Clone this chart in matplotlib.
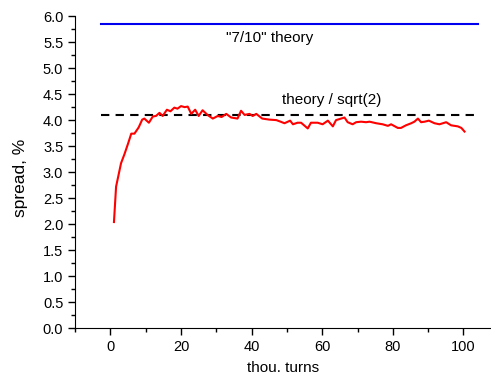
import matplotlib
matplotlib.use("Agg")
import matplotlib.pyplot as plt
from matplotlib.ticker import MultipleLocator

plt.rcParams['font.family'] = ['Liberation Sans', 'DejaVu Sans']

turns = [1, 1.6, 3, 4, 5, 5.9, 6.8, 8, 9, 9.6, 10.9, 12, 12.9, 13.9, 14.8, 16, 17, 18.1, 19, 20,
         21, 21.9, 22.9, 24, 25, 26.1, 27.5, 29, 30.4, 31.5, 32.8, 34.2, 36, 37, 38, 39.4, 40.3,
         41.3, 43, 45, 47, 48.2, 49.3, 50.9, 51.7, 53, 54, 55.9, 56.8, 58.7, 60.1, 61.6, 63, 63.9,
         66.3, 67.2, 68.6, 69.6, 71, 72.4, 73.4, 75.3, 77.1, 78.6, 79.5, 81.4, 82.3, 83.7, 85.2,
         86.1, 87.1, 88, 89, 90.2, 91.8, 93.2, 95.1, 96.5, 98.4, 99.4, 100.3]
spread = [2.04, 2.72, 3.17, 3.35, 3.55, 3.74, 3.74, 3.86, 4.01, 4.03, 3.95, 4.07, 4.08, 4.14, 4.08,
          4.2, 4.17, 4.24, 4.22, 4.27, 4.25, 4.26, 4.12, 4.2, 4.08, 4.19, 4.1, 4.03, 4.08, 4.06, 4.12,
          4.05, 4.03, 4.18, 4.1, 4.12, 4.08, 4.12, 4.03, 4.01, 4.0, 3.97, 3.94, 3.99, 3.92, 3.95, 3.95,
          3.84, 3.95, 3.95, 3.92, 3.99, 3.88, 4.0, 4.05, 3.96, 3.92, 3.96, 3.97, 3.96, 3.97, 3.94,
          3.92, 3.89, 3.92, 3.85, 3.85, 3.9, 3.94, 3.97, 4.03, 3.96, 3.97, 3.99, 3.94, 3.92, 3.96,
          3.9, 3.88, 3.85, 3.78]

theory_x = [-2.8, 104]
theory_7_10 = 5.85
theory_sqrt2 = 4.1

fig = plt.figure(figsize=(4.91, 3.75), dpi=100)
ax = fig.add_axes([0.153, 0.125, 0.847, 0.832])

ax.plot(theory_x, [theory_7_10, theory_7_10], color='#0000ee', lw=1.5)
ax.plot(theory_x, [theory_sqrt2, theory_sqrt2], color='black', lw=1.5, ls=(0, (4, 3)))
ax.plot(turns, spread, color='#ff0000', lw=1.5)

ax.text(45.2, 5.58, '"7/10" theory', ha='center', va='center', fontsize=11)
ax.text(62.7, 4.38, 'theory / sqrt(2)', ha='center', va='center', fontsize=11)

ax.set_xlim(-10, 107.8)
ax.set_ylim(0, 6.0)
ax.xaxis.set_major_locator(MultipleLocator(20))
ax.xaxis.set_minor_locator(MultipleLocator(10))
ax.yaxis.set_major_locator(MultipleLocator(0.5))
ax.yaxis.set_minor_locator(MultipleLocator(0.25))
ax.yaxis.set_major_formatter(matplotlib.ticker.FormatStrFormatter('%.1f'))
for s in ['top', 'right']:
    ax.spines[s].set_visible(False)
ax.tick_params(which='major', direction='out', length=5, width=1, labelsize=10.5)
ax.tick_params(which='minor', direction='out', length=3, width=1)
ax.set_xlabel('thou. turns', fontsize=11, labelpad=5)
ax.set_ylabel('spread, %', fontsize=12.5, va='center')
ax.yaxis.set_label_coords(-0.132, 0.48)

fig.savefig('out.png', dpi=100)
